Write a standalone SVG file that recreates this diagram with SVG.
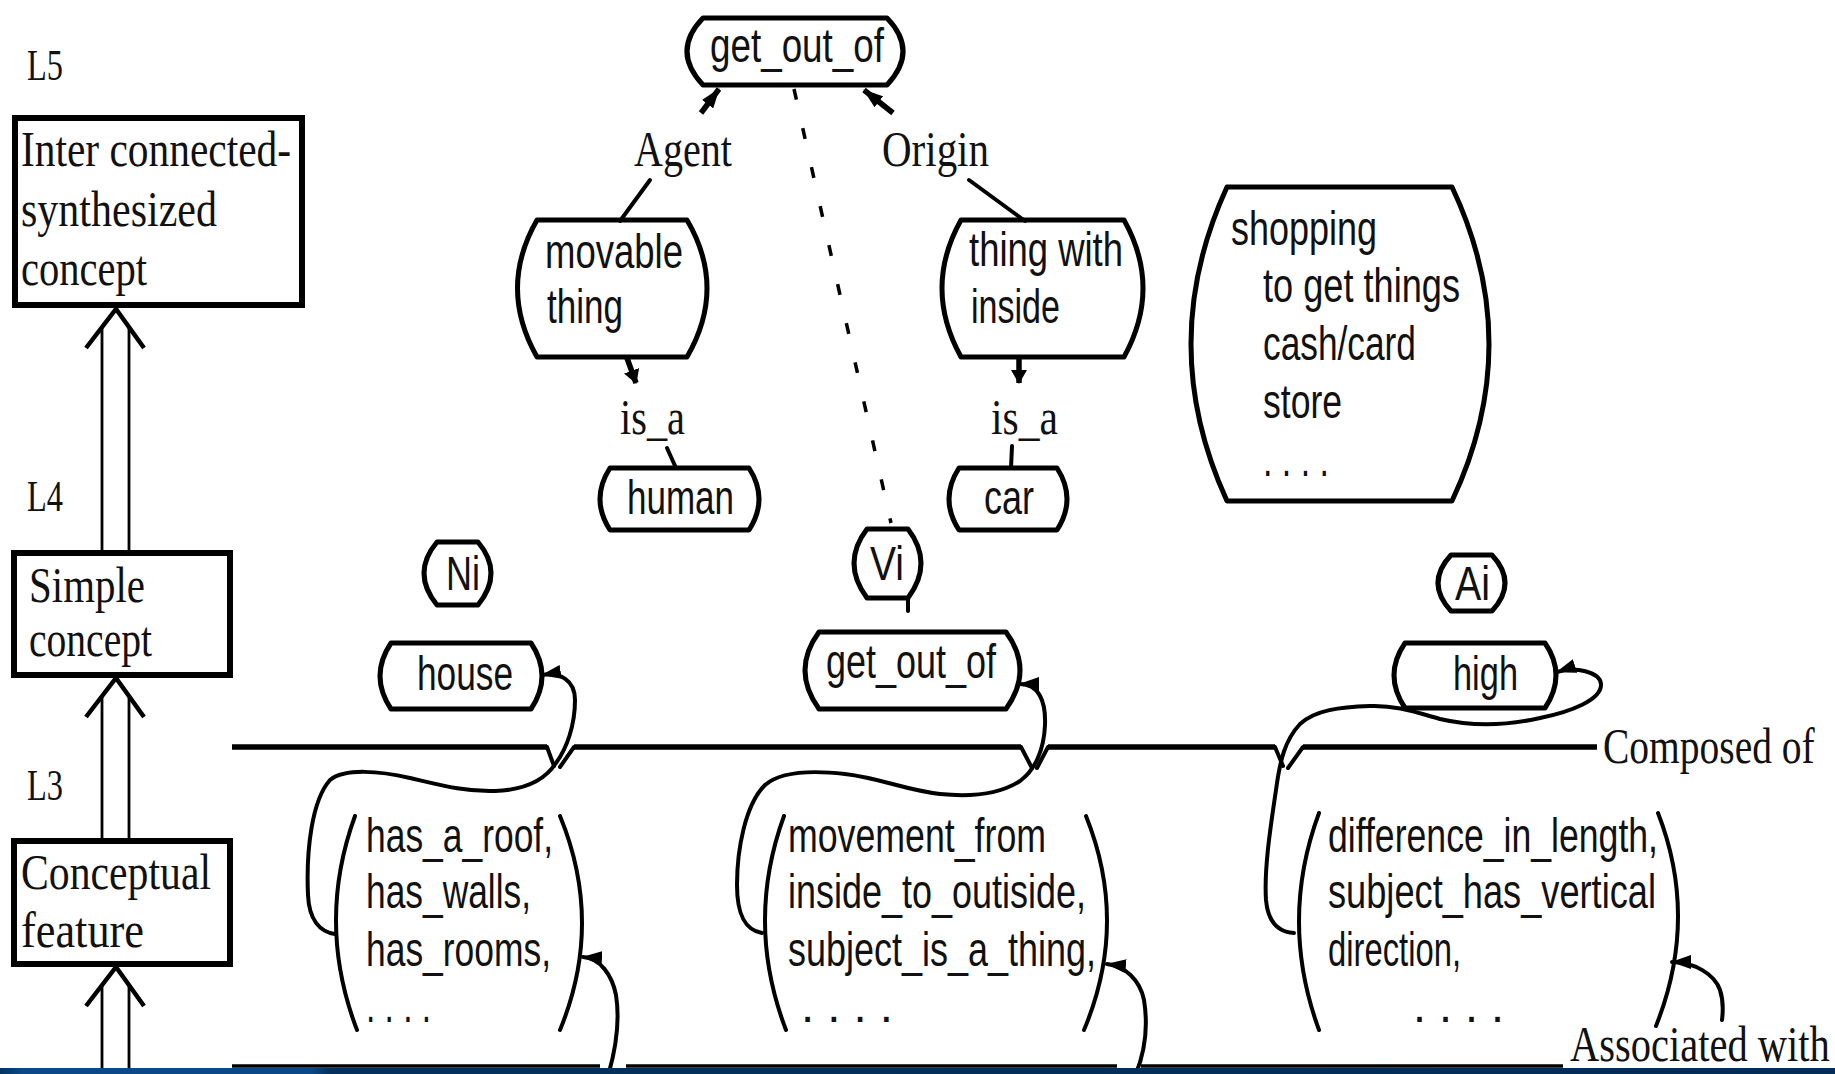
<svg xmlns="http://www.w3.org/2000/svg" width="1835" height="1074" viewBox="0 0 1835 1074">
<style>
.serif{font-family:"Liberation Serif","Times New Roman",serif;font-size:50px;fill:#111}
.lvl{font-family:"Liberation Serif","Times New Roman",serif;font-size:44px;fill:#111}
.sans{font-family:"Liberation Sans",Arial,sans-serif;font-size:48px;fill:#111}
.node{fill:#fff;stroke:#000;stroke-width:5;stroke-linejoin:round}
.box{fill:#fff;stroke:#000;stroke-width:6}
.brk{fill:none;stroke:#000;stroke-width:4;stroke-linecap:round}
.ln{fill:none;stroke:#000;stroke-width:4;stroke-linecap:round}
.thk{fill:none;stroke:#000;stroke-width:5.5;stroke-linecap:butt}
.crv{fill:none;stroke:#000;stroke-width:4;stroke-linecap:round}
.shaft{stroke:#000;stroke-width:2.8}
.chev{fill:none;stroke:#000;stroke-width:4.5;stroke-linejoin:miter}
.bar{stroke:#000;stroke-width:5.5}
.bar2{stroke:#000;stroke-width:3.5}
</style>
<defs>
<marker id="arr" viewBox="0 0 20 14" markerUnits="userSpaceOnUse" markerWidth="20" markerHeight="14" refX="19" refY="7" orient="auto-start-reverse">
<path d="M0,0 L20,7 L0,14 Z" fill="#000"/>
</marker>
<marker id="arrS" viewBox="0 0 14 16" markerUnits="userSpaceOnUse" markerWidth="14" markerHeight="16" refX="13" refY="8" orient="auto-start-reverse">
<path d="M0,0 L14,8 L0,16 Z" fill="#000"/>
</marker>
<linearGradient id="blue" x1="0" y1="0" x2="1" y2="0">
<stop offset="0" stop-color="#04335f"/>
<stop offset="0.012" stop-color="#0b4887"/>
<stop offset="0.17" stop-color="#0b4887"/>
<stop offset="0.18" stop-color="#03305c"/>
<stop offset="1" stop-color="#032c57"/>
</linearGradient>
</defs>

<g id="level-labels">
<text class="lvl" x="27" y="80" textLength="36" lengthAdjust="spacingAndGlyphs">L5</text>
<text class="lvl" x="27" y="511" textLength="36" lengthAdjust="spacingAndGlyphs">L4</text>
<text class="lvl" x="27" y="800" textLength="36" lengthAdjust="spacingAndGlyphs">L3</text>
</g>

<g id="box-synthesized">
<rect class="box" x="15" y="118" width="287" height="187"/>
<text class="serif" x="21" y="166" textLength="270" lengthAdjust="spacingAndGlyphs">Inter connected-</text>
<text class="serif" x="21" y="226" textLength="196" lengthAdjust="spacingAndGlyphs">synthesized</text>
<text class="serif" x="21" y="285" textLength="126" lengthAdjust="spacingAndGlyphs">concept</text>
</g>

<g id="box-simple">
<rect class="box" x="14" y="553" width="216" height="122"/>
<text class="serif" x="29" y="602" textLength="116" lengthAdjust="spacingAndGlyphs">Simple</text>
<text class="serif" x="29" y="656" textLength="123" lengthAdjust="spacingAndGlyphs">concept</text>
</g>

<g id="box-feature">
<rect class="box" x="14" y="841" width="216" height="123"/>
<text class="serif" x="21" y="889" textLength="190" lengthAdjust="spacingAndGlyphs">Conceptual</text>
<text class="serif" x="21" y="947" textLength="123" lengthAdjust="spacingAndGlyphs">feature</text>
</g>

<g id="node-get-out-of-top">
<path class="node" d="M703,18 H887 Q919,51 887,85 H703 Q671,51 703,18 Z"/>
<text class="sans" x="710" y="62" textLength="174" lengthAdjust="spacingAndGlyphs">get_out_of</text>
</g>

<g id="node-movable-thing">
<path class="node" d="M537,220 H687 Q727,288 687,357 H537 Q498,288 537,220 Z"/>
<text class="sans" x="545" y="268" textLength="138" lengthAdjust="spacingAndGlyphs">movable</text>
<text class="sans" x="547" y="323" textLength="76" lengthAdjust="spacingAndGlyphs">thing</text>
</g>

<g id="node-thing-with-inside">
<path class="node" d="M961,220 H1124 Q1162,288 1124,357 H961 Q923,288 961,220 Z"/>
<text class="sans" x="969" y="266" textLength="154" lengthAdjust="spacingAndGlyphs">thing with</text>
<text class="sans" x="971" y="323" textLength="89" lengthAdjust="spacingAndGlyphs">inside</text>
</g>

<g id="node-human">
<path class="node" d="M610,468 H749 Q769,499 749,530 H610 Q590,499 610,468 Z"/>
<text class="sans" x="627" y="514" textLength="107" lengthAdjust="spacingAndGlyphs">human</text>
</g>

<g id="node-car">
<path class="node" d="M959,468 H1057 Q1077,499 1057,530 H959 Q939,499 959,468 Z"/>
<text class="sans" x="984" y="514" textLength="50" lengthAdjust="spacingAndGlyphs">car</text>
</g>

<g id="label-agent">
<text class="serif" x="634" y="166" textLength="98" lengthAdjust="spacingAndGlyphs">Agent</text>
</g>
<g id="label-origin">
<text class="serif" x="882" y="166" textLength="107" lengthAdjust="spacingAndGlyphs">Origin</text>
</g>
<g id="label-is-a-left">
<text class="serif" x="620" y="434" textLength="65" lengthAdjust="spacingAndGlyphs">is_a</text>
</g>
<g id="label-is-a-right">
<text class="serif" x="991" y="434" textLength="67" lengthAdjust="spacingAndGlyphs">is_a</text>
</g>

<g id="node-shopping">
<path class="node" d="M1227,187 H1452 Q1526,344 1452,501 H1227 Q1155,344 1227,187 Z"/>
<text class="sans" x="1231" y="245" textLength="146" lengthAdjust="spacingAndGlyphs">shopping</text>
<text class="sans" x="1263" y="302" textLength="197" lengthAdjust="spacingAndGlyphs">to get things</text>
<text class="sans" x="1263" y="360" textLength="153" lengthAdjust="spacingAndGlyphs">cash/card</text>
<text class="sans" x="1263" y="418" textLength="79" lengthAdjust="spacingAndGlyphs">store</text>
<text class="sans" x="1263" y="476" textLength="66" lengthAdjust="spacingAndGlyphs">. . . .</text>
</g>

<g id="node-Ni">
<path class="node" d="M437,542 H478 Q504,573 478,605 H437 Q411,573 437,542 Z"/>
<text class="sans" x="446" y="590" textLength="34" lengthAdjust="spacingAndGlyphs">Ni</text>
</g>
<g id="node-Vi">
<path class="node" d="M867,529 H908 Q934,563 908,598 H867 Q841,563 867,529 Z"/>
<text class="sans" x="870" y="580" textLength="34" lengthAdjust="spacingAndGlyphs">Vi</text>
</g>
<g id="node-Ai">
<path class="node" d="M1451,555 H1492 Q1518,583 1492,611 H1451 Q1425,583 1451,555 Z"/>
<text class="sans" x="1455" y="600" textLength="35" lengthAdjust="spacingAndGlyphs">Ai</text>
</g>

<g id="node-house">
<path class="node" d="M391,643 H531 Q553,676 531,709 H391 Q369,676 391,643 Z"/>
<text class="sans" x="417" y="690" textLength="96" lengthAdjust="spacingAndGlyphs">house</text>
</g>
<g id="node-get-out-of-mid">
<path class="node" d="M819,632 H1006 Q1034,670 1006,709 H819 Q791,670 819,632 Z"/>
<text class="sans" x="826" y="678" textLength="170" lengthAdjust="spacingAndGlyphs">get_out_of</text>
</g>
<g id="node-high">
<path class="node" d="M1405,643 H1545 Q1567,675 1545,708 H1405 Q1383,675 1405,643 Z"/>
<text class="sans" x="1453" y="690" textLength="65" lengthAdjust="spacingAndGlyphs">high</text>
</g>

<g id="node-house-features">
<path class="brk" d="M355,816 Q316,923 357,1030"/>
<path class="brk" d="M560,816 Q604,923 560,1030"/>
<text class="sans" x="366" y="852" textLength="187" lengthAdjust="spacingAndGlyphs">has_a_roof,</text>
<text class="sans" x="366" y="908" textLength="165" lengthAdjust="spacingAndGlyphs">has_walls,</text>
<text class="sans" x="366" y="966" textLength="185" lengthAdjust="spacingAndGlyphs">has_rooms,</text>
<text class="sans" x="366" y="1022" textLength="65" lengthAdjust="spacingAndGlyphs">. . . .</text>
</g>
<g id="node-movement-features">
<path class="brk" d="M784,816 Q745,923 786,1030"/>
<path class="brk" d="M1086,816 Q1129,923 1084,1030"/>
<text class="sans" x="788" y="852" textLength="258" lengthAdjust="spacingAndGlyphs">movement_from</text>
<text class="sans" x="788" y="908" textLength="298" lengthAdjust="spacingAndGlyphs">inside_to_outiside,</text>
<text class="sans" x="788" y="966" textLength="308" lengthAdjust="spacingAndGlyphs">subject_is_a_thing,</text>
<text class="sans" x="801" y="1022" textLength="92" lengthAdjust="spacingAndGlyphs">. . . .</text>
</g>
<g id="node-high-features">
<path class="brk" d="M1319,813 Q1279,921 1319,1030"/>
<path class="brk" d="M1658,813 Q1699,918 1656,1026"/>
<text class="sans" x="1328" y="852" textLength="330" lengthAdjust="spacingAndGlyphs">difference_in_length,</text>
<text class="sans" x="1328" y="908" textLength="328" lengthAdjust="spacingAndGlyphs">subject_has_vertical</text>
<text class="sans" x="1328" y="966" textLength="133" lengthAdjust="spacingAndGlyphs">direction,</text>
<text class="sans" x="1413" y="1022" textLength="91" lengthAdjust="spacingAndGlyphs">. . . .</text>
</g>

<g id="label-composed-of">
<text class="serif" transform="translate(1603,763) scale(0.79,1)" x="0" y="0">Composed of</text>
</g>
<g id="label-associated-with">
<text class="serif" transform="translate(1570,1061) scale(0.81,1)" x="0" y="0">Associated with</text>
</g>

<g id="connectors">
<line class="shaft" x1="102" y1="327" x2="102" y2="553"/>
<line class="shaft" x1="129" y1="327" x2="129" y2="553"/>
<polyline class="chev" points="86,348 116,309 144,348"/>
<line class="shaft" x1="102" y1="696" x2="102" y2="841"/>
<line class="shaft" x1="129" y1="696" x2="129" y2="841"/>
<polyline class="chev" points="86,717 116,678 144,717"/>
<line class="shaft" x1="102" y1="985" x2="102" y2="1074"/>
<line class="shaft" x1="129" y1="985" x2="129" y2="1074"/>
<polyline class="chev" points="86,1006 116,967 144,1006"/>

<line class="thk" x1="701" y1="113" x2="719" y2="89" marker-end="url(#arr)"/>
<line class="thk" x1="893" y1="113" x2="864" y2="90" marker-end="url(#arr)"/>
<line class="ln" x1="650" y1="180" x2="620" y2="221"/>
<line class="ln" x1="969" y1="180" x2="1025" y2="221"/>
<line class="thk" x1="627" y1="358" x2="636" y2="383" marker-end="url(#arrS)"/>
<line class="thk" x1="1019" y1="358" x2="1019" y2="383" marker-end="url(#arrS)"/>
<line class="ln" x1="667" y1="448" x2="676" y2="468"/>
<line class="ln" x1="1012" y1="446" x2="1011" y2="468"/>
<line x1="794" y1="89" x2="891" y2="523" stroke="#000" stroke-width="3.5" stroke-dasharray="11 29"/>
<line class="ln" x1="908" y1="598" x2="908" y2="611"/>

<line class="bar" x1="232" y1="747" x2="547" y2="747"/>
<line class="bar" x1="574" y1="747" x2="1021" y2="747"/>
<line class="bar" x1="1048" y1="747" x2="1275" y2="747"/>
<line class="bar" x1="1303" y1="747" x2="1597" y2="747"/>
<polyline class="crv" points="547,747 554,766"/>
<polyline class="crv" points="574,747 560,767"/>
<polyline class="crv" points="1021,747 1032,768"/>
<polyline class="crv" points="1048,747 1037,768"/>
<polyline class="crv" points="1275,747 1283,766"/>
<polyline class="crv" points="1303,747 1288,768"/>

<line class="bar2" x1="232" y1="1066" x2="600" y2="1066"/>
<line class="bar2" x1="626" y1="1066" x2="1117" y2="1066"/>
<line class="bar2" x1="1141" y1="1066" x2="1563" y2="1066"/>

<path class="crv" marker-start="url(#arr)" d="M542,675 C560,672 575,680 575,700 C575,725 567,748 556,763 C545,780 525,790 495,791 C465,792 440,785 410,778 C380,771 345,768 330,780 C312,800 306,850 308,895 C309,920 320,932 335,934"/>
<path class="crv" marker-start="url(#arr)" d="M583,957 C600,958 612,975 616,995 C620,1020 617,1045 608,1076"/>
<path class="crv" marker-start="url(#arr)" d="M1020,684 C1038,684 1046,700 1045,725 C1044,750 1035,770 1020,781 C1000,794 970,797 940,794 C905,790 880,778 845,774 C810,770 780,772 765,785 C745,805 737,850 737,885 C737,915 745,930 762,933"/>
<path class="crv" marker-start="url(#arr)" d="M1107,964 C1125,966 1140,980 1144,1000 C1148,1025 1146,1050 1135,1076"/>
<path class="crv" marker-start="url(#arr)" d="M1557,672 C1575,666 1600,672 1601,684 C1602,700 1570,712 1540,718 C1505,726 1470,726 1440,719 C1415,712 1395,705 1370,706 C1340,707 1315,710 1300,724 C1285,740 1280,760 1276,790 C1270,830 1264,870 1266,900 C1268,922 1278,932 1294,933"/>
<path class="crv" marker-start="url(#arr)" d="M1672,962 C1695,962 1715,975 1720,990 C1724,1002 1723,1012 1722,1020"/>
</g>

<rect x="0" y="1068" width="1835" height="6" fill="url(#blue)"/>
</svg>
